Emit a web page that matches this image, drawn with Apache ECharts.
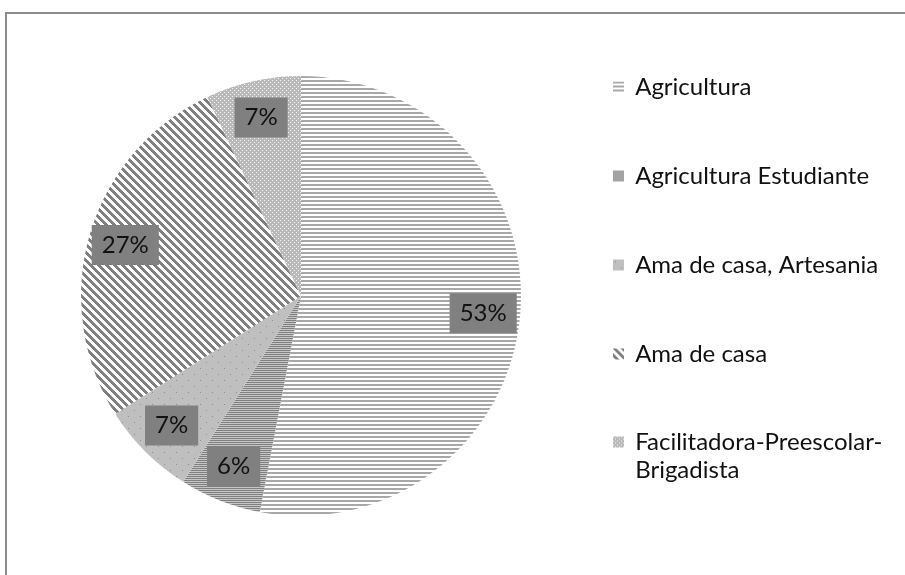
<!DOCTYPE html>
<html>
<head>
<meta charset="utf-8">
<script src="https://cdn.jsdelivr.net/npm/echarts@6/dist/echarts.min.js"></script>
<style>
  html, body { margin: 0; padding: 0; background: #fff; }
  #chart { width: 905px; height: 575px; }
</style>
</head>
<body>
<div id="chart"></div>
<script>
// data
let categories = ['Agricultura', 'Agricultura Estudiante', 'Ama de casa, Artesania', 'Ama de casa', 'Facilitadora-Preescolar-Brigadista'];
let values = [53, 6, 7, 27, 7];

function tile(w, h, draw) {
    let c = document.createElement('canvas');
    c.width = w;
    c.height = h;
    draw(c.getContext('2d'), w, h);
    return { image: c, repeat: 'repeat' };
}

// fill patterns, one per slice
let patterns = [
    tile(4, 4, (ctx) => {
        ctx.fillStyle = '#fff'; ctx.fillRect(0, 0, 4, 4);
        ctx.fillStyle = '#a8a8a8'; ctx.fillRect(0, 0, 4, 2);
    }),
    tile(2, 2, (ctx) => {
        ctx.fillStyle = '#c6c6c6'; ctx.fillRect(0, 0, 2, 2);
        ctx.fillStyle = '#808080'; ctx.fillRect(0, 0, 2, 1);
    }),
    tile(12, 12, (ctx) => {
        ctx.fillStyle = '#bfbfbf'; ctx.fillRect(0, 0, 12, 12);
        ctx.fillStyle = '#8e8e8e';
        ctx.fillRect(2, 2, 1, 1);
        ctx.fillRect(8, 8, 1, 1);
    }),
    tile(8, 8, (ctx) => {
        ctx.fillStyle = '#fff'; ctx.fillRect(0, 0, 8, 8);
        ctx.fillStyle = '#7f7f7f';
        for (let y = 0; y < 8; y++) {
            for (let x = 0; x < 8; x++) {
                if (((x - y) % 8 + 8) % 8 < 4) ctx.fillRect(x, y, 1, 1);
            }
        }
    }),
    tile(4, 4, (ctx) => {
        ctx.fillStyle = '#b9b9b9'; ctx.fillRect(0, 0, 4, 4);
        ctx.fillStyle = '#f4f4f4';
        ctx.fillRect(0, 0, 1, 1);
        ctx.fillRect(2, 2, 1, 1);
    })
];

let font = 'Lato';

let pieData = categories.map((name, i) => ({ name: name, value: values[i], itemStyle: { color: patterns[i] } }));
let labelData = categories.map((name, i) => ({ name: name, value: values[i] }));

let chart = echarts.init(document.getElementById('chart'));

let legendText = {
    fontFamily: font,
    fontSize: 24,
    color: '#111',
    lineHeight: 28
};

let option = {
    animation: false,
    graphic: [
        {
            type: 'rect',
            shape: { x: 6, y: 13, width: 1000, height: 1000 },
            style: { fill: 'none', stroke: '#8c8c8c', lineWidth: 2 },
            silent: true
        }
    ],
    legend: [
        {
            orient: 'vertical',
            left: 613,
            top: 73,
            padding: 0,
            icon: 'rect',
            itemWidth: 11,
            itemHeight: 11,
            itemGap: 61,
            data: categories.slice(0, 4),
            formatter: (name) => ' ' + name,
            textStyle: legendText,
            selectedMode: false
        },
        {
            orient: 'vertical',
            left: 613,
            top: 400,
            padding: 0,
            icon: 'rect',
            itemWidth: 11,
            itemHeight: 11,
            data: categories.slice(4),
            // empty first line keeps the icon level with the first text line
            formatter: () => ' \n Facilitadora-Preescolar-\n Brigadista',
            textStyle: legendText,
            selectedMode: false
        }
    ],
    series: [
        {
            type: 'pie',
            center: [301, 296],
            radius: 220,
            startAngle: 90,
            clockwise: true,
            silent: true,
            label: { show: false },
            labelLine: { show: false },
            itemStyle: { borderWidth: 0 },
            data: pieData
        },
        {
            // transparent ring, only carries the labels at ~0.8 of the radius
            type: 'pie',
            center: [301, 296],
            radius: [140, 220],
            startAngle: 90,
            clockwise: true,
            silent: true,
            itemStyle: { color: 'rgba(0,0,0,0)', borderWidth: 0 },
            label: {
                show: true,
                position: 'inside',
                formatter: '{d}%',
                fontFamily: font,
                fontSize: 24,
                color: '#111',
                backgroundColor: '#808080',
                padding: [6, 10, 6, 10],
                lineHeight: 28
            },
            labelLine: { show: false },
            data: labelData
        }
    ]
};

chart.setOption(option);
</script>
</body>
</html>
